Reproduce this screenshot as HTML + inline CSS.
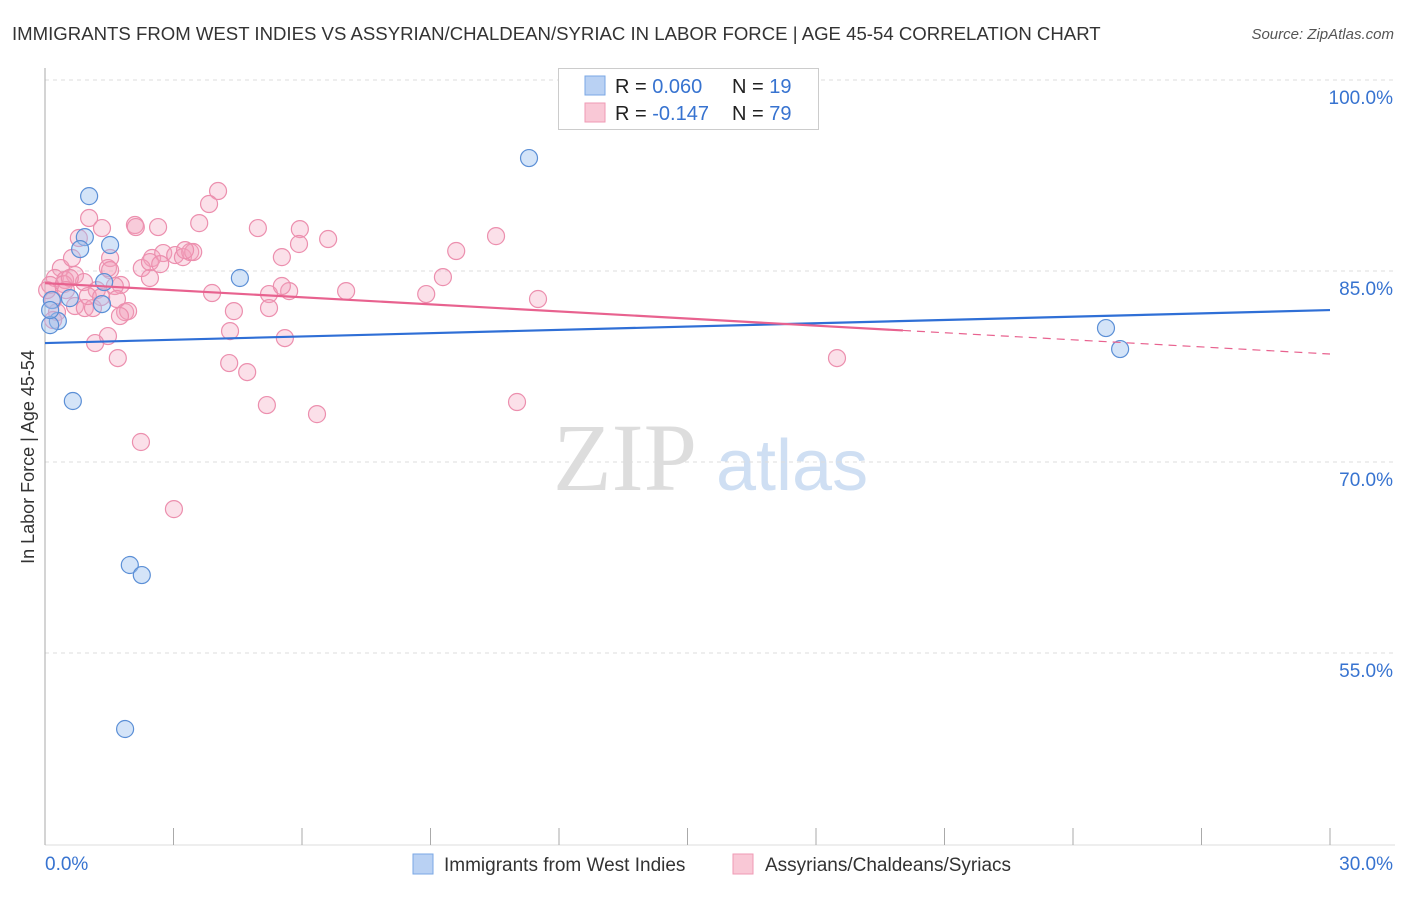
<!DOCTYPE html>
<html><head><meta charset="utf-8"><style>
body{margin:0;background:#fff;font-family:"Liberation Sans",sans-serif;}
svg text{font-family:"Liberation Sans",sans-serif;}
</style></head><body>
<svg id="chart" width="1406" height="892" xmlns="http://www.w3.org/2000/svg">
<text x="12" y="40" font-size="18.6" fill="#333">IMMIGRANTS FROM WEST INDIES VS ASSYRIAN/CHALDEAN/SYRIAC IN LABOR FORCE | AGE 45-54 CORRELATION CHART</text>
<text x="1394" y="39" font-size="15" fill="#555" text-anchor="end" font-style="italic">Source: ZipAtlas.com</text>
<g>
<text x="553" y="490" font-size="96" fill="#ddd" font-family="Liberation Serif" style="font-family:'Liberation Serif',serif">ZIP</text>
<text x="716" y="490" font-size="72" fill="#cfdff3">atlas</text>
</g>
<g id="grid"></g>
<g id="axes"></g>
<g id="marks"></g>
<text transform="translate(34,457) rotate(-90)" font-size="18" fill="#333" text-anchor="middle">In Labor Force | Age 45-54</text>
<g>
<rect x="558.5" y="68.5" width="260" height="61" fill="#fff" stroke="#ccc"/>
<rect x="585" y="76" width="20" height="19" fill="#b9d1f3" stroke="#7aa7e4"/>
<rect x="585" y="103" width="20" height="19" fill="#f9c8d6" stroke="#ef9ab4"/>
<text x="615" y="93" font-size="20" fill="#222">R = <tspan fill="#3773d0">0.060</tspan></text>
<text x="732" y="93" font-size="20" fill="#222">N = <tspan fill="#3773d0"> 19</tspan></text>
<text x="615" y="120" font-size="20" fill="#222">R = <tspan fill="#3773d0">-0.147</tspan></text>
<text x="732" y="120" font-size="20" fill="#222">N = <tspan fill="#3773d0">79</tspan></text>
</g>
<g>
<rect x="413" y="854" width="20" height="20" fill="#b9d1f3" stroke="#7aa7e4"/>
<text x="444" y="871" font-size="19" fill="#333">Immigrants from West Indies</text>
<rect x="733" y="854" width="20" height="20" fill="#f9c8d6" stroke="#ef9ab4"/>
<text x="765" y="871" font-size="19" fill="#333">Assyrians/Chaldeans/Syriacs</text>
</g>
</svg>
<script>
const blueX=[1.03,0.93,0.82,1.52,4.55,11.30,1.38,0.58,1.33,0.16,0.30,0.12,0.65,1.98,2.26,1.87,24.77,25.10,0.12];
const blueY=[90.88,87.66,86.72,87.04,84.45,93.87,84.13,82.87,82.40,82.72,81.07,80.75,74.79,61.91,61.12,49.03,80.52,78.87,81.93];
const pinkX=[4.04,3.83,1.03,1.33,0.79,2.10,2.12,2.64,3.60,4.97,5.95,6.61,5.93,10.53,9.60,5.53,1.52,2.50,2.76,3.04,3.22,3.39,3.46,2.26,1.47,0.37,0.63,0.70,0.23,0.47,0.91,1.77,2.45,1.63,3.90,5.23,5.70,5.53,7.03,8.90,9.29,11.51,1.68,1.21,0.70,0.93,1.12,1.87,1.94,1.75,4.41,5.23,4.32,5.60,1.47,1.17,1.70,4.30,4.72,5.18,6.35,11.02,18.49,2.24,3.01,0.12,0.19,0.28,0.05,0.44,1.00,1.31,0.19,0.58,0.49,1.52,2.45,2.69,3.27];
const pinkY=[91.28,90.26,89.16,88.37,87.59,88.61,88.45,88.45,88.76,88.37,88.29,87.51,87.12,87.74,86.57,86.09,86.02,86.02,86.41,86.25,86.09,86.49,86.49,85.23,85.23,85.23,86.02,84.68,84.45,84.29,84.13,83.90,84.45,83.82,83.27,83.19,83.42,83.82,83.42,83.19,84.52,82.80,82.80,83.50,82.25,82.09,82.09,81.77,81.85,81.46,81.85,82.09,80.28,79.73,79.89,79.34,78.16,77.77,77.06,74.47,73.76,74.71,78.16,71.57,66.30,83.90,82.72,81.77,83.50,83.97,83.03,82.95,81.15,84.45,83.50,85.07,85.70,85.54,86.64];
const blueTrend=[79.34,81.93];
const pinkTrend=[84.05,78.48];
const pinkSolidEnd=20.03;
const yTicks=[100,85,70,55];
const yTickLabels=["100.0%","85.0%","70.0%","55.0%"];
const xTicks=[0,3,6,9,12,15,18,21,24,27,30];

const NS="http://www.w3.org/2000/svg";
const X=v=>45+v*(1285/30);
const Y=v=>80+(100-v)*12.733;
function mk(tag,attrs,parent){const e=document.createElementNS(NS,tag);for(const k in attrs)e.setAttribute(k,attrs[k]);parent.appendChild(e);return e;}
const grid=document.getElementById('grid'),axes=document.getElementById('axes'),marks=document.getElementById('marks');
yTicks.forEach((t,i)=>{
 const l=mk('line',{x1:45,x2:1395,y1:Y(t),y2:Y(t),stroke:'#ddd','stroke-dasharray':'4,4'},grid);
 
 
 const tx=mk('text',{x:1393,y:Y(t)+24,'font-size':19,fill:'#3773d0','text-anchor':'end'},axes);
 tx.textContent=yTickLabels[i];
 
 
});
const ax=mk('line',{x1:45,x2:45,y1:68,y2:845,stroke:'#aaa'},axes);


const bx=mk('line',{x1:45,x2:1395,y1:845,y2:845,stroke:'#ddd'},axes);


xTicks.forEach(t=>{
 const l=mk('line',{x1:X(t),x2:X(t),y1:828,y2:845,stroke:'#aaa'},axes);
 
 
});
const xl0=mk('text',{x:45,y:870,'font-size':19,fill:'#3773d0'},axes);xl0.textContent='0.0%';


const xl1=mk('text',{x:1393,y:870,'font-size':19,fill:'#3773d0','text-anchor':'end'},axes);xl1.textContent='30.0%';



pinkX.forEach((x,i)=>{
 const c=mk('circle',{cx:X(x),cy:Y(pinkY[i]),r:8.5,fill:'rgba(244,160,188,0.33)',stroke:'#ec8fae','stroke-width':1.2},marks);
 
 
});
blueX.forEach((x,i)=>{
 const c=mk('circle',{cx:X(x),cy:Y(blueY[i]),r:8.5,fill:'rgba(160,195,240,0.45)',stroke:'#5b8fd6','stroke-width':1.2},marks);
 
 
});
const bt=mk('line',{x1:X(0),y1:Y(blueTrend[0]),x2:X(30),y2:Y(blueTrend[1]),stroke:'#2f6fd6','stroke-width':2.2},marks);


const pAt=x=>pinkTrend[0]+(pinkTrend[1]-pinkTrend[0])*x/30;
const pt=mk('line',{x1:X(0),y1:Y(pinkTrend[0]),x2:X(pinkSolidEnd),y2:Y(pAt(pinkSolidEnd)),stroke:'#e8628f','stroke-width':2.2},marks);


const pd=mk('line',{x1:X(pinkSolidEnd),y1:Y(pAt(pinkSolidEnd)),x2:X(30),y2:Y(pinkTrend[1]),stroke:'#e8628f','stroke-width':1.2,'stroke-dasharray':'8,6'},marks);


</script>
</body></html>
